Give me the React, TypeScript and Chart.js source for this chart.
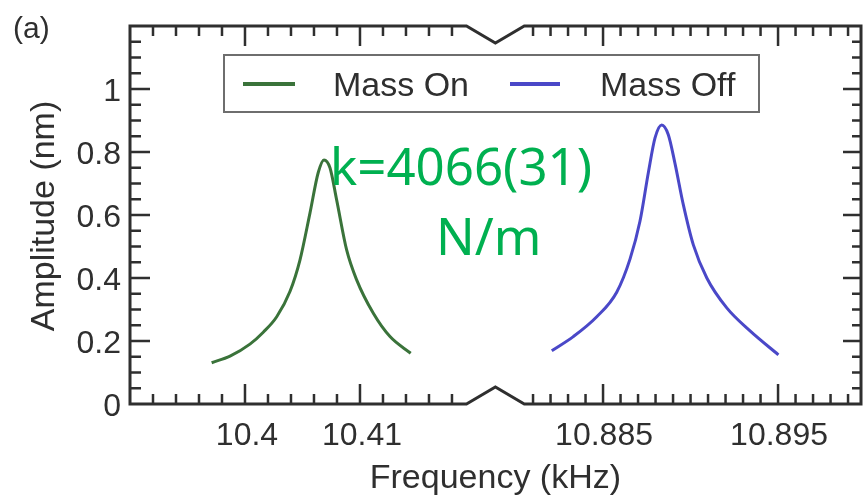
import React, { useEffect, useRef } from "react";
import { Chart, registerables } from "chart.js";

Chart.register(...registerables);

// ---- Data ----
const massOnFreq = [10.3971, 10.3987, 10.40043, 10.40159, 10.40276, 10.40391, 10.40478, 10.40565, 10.40637, 10.40687, 10.40739, 10.40797, 10.40884, 10.40971, 10.41116, 10.41261, 10.41441];
const massOnAmp = [0.131, 0.152, 0.19, 0.228, 0.277, 0.357, 0.457, 0.606, 0.735, 0.775, 0.75, 0.648, 0.489, 0.394, 0.288, 0.214, 0.161];

const massOffFreq = [10.88207, 10.8833, 10.88464, 10.88578, 10.88654, 10.88711, 10.88759, 10.88797, 10.88835, 10.88873, 10.88911, 10.88959, 10.89016, 10.89093, 10.89207, 10.8934, 10.89502];
const massOffAmp = [0.169, 0.214, 0.277, 0.355, 0.46, 0.58, 0.735, 0.845, 0.886, 0.855, 0.764, 0.632, 0.505, 0.4, 0.305, 0.232, 0.156];

const seriesNames = ["Mass On", "Mass Off"];
const leftTicks = [10.4, 10.41];
const leftTickLabels = ["10.4", "10.41"];
const rightTicks = [10.885, 10.895];
const rightTickLabels = ["10.885", "10.895"];
const yTicks = [0, 0.2, 0.4, 0.6, 0.8, 1];
const yTickLabels = ["0", "0.2", "0.4", "0.6", "0.8", "1"];
const xTitle = "Frequency (kHz)";
const yTitle = "Amplitude (nm)";
const panelLabel = "(a)";
const annotationLines = ["k=4066(31)", "N/m"];

// axis ranges (two segments of a broken axis)
const leftMin = 10.39;
const leftEnd = 10.419; // last value drawn on left segment
const leftMax = 10.45357; // full-width virtual max
const rightStart = 10.8805;
const rightMin = 10.85797; // full-width virtual min
const rightMax = 10.89974;
const yMin = 0;
const yMax = 1.2;

const FONT = '"Liberation Sans", Arial, Helvetica, sans-serif';
const AXIS_COLOR = "#2f2f2f";

const framePlugin = {
  id: "framePlugin",
  afterDraw(chart: any) {
    const ctx: CanvasRenderingContext2D = chart.ctx;
    const { left, right, top, bottom } = chart.chartArea;
    const x1 = chart.scales.x1;
    const x2 = chart.scales.x2;
    const y = chart.scales.y;
    const bx0 = x1.getPixelForValue(leftEnd) + 3;
    const bx1 = x2.getPixelForValue(rightStart);
    const bxm = (bx0 + bx1) / 2;
    const dip = 17;

    ctx.save();
    // frame with break marks
    ctx.strokeStyle = AXIS_COLOR;
    ctx.lineWidth = 3;
    ctx.lineJoin = "miter";
    ctx.beginPath();
    ctx.moveTo(left, top);
    ctx.lineTo(bx0, top);
    ctx.lineTo(bxm, top + dip);
    ctx.lineTo(bx1, top);
    ctx.lineTo(right, top);
    ctx.lineTo(right, bottom);
    ctx.lineTo(bx1, bottom);
    ctx.lineTo(bxm, bottom - dip);
    ctx.lineTo(bx0, bottom);
    ctx.lineTo(left, bottom);
    ctx.closePath();
    ctx.stroke();

    // x ticks
    ctx.lineWidth = 2.5;
    const drawXTick = (px: number, len: number) => {
      ctx.beginPath();
      ctx.moveTo(px, bottom);
      ctx.lineTo(px, bottom - len);
      ctx.moveTo(px, top);
      ctx.lineTo(px, top + len);
      ctx.stroke();
    };
    for (let i = 1; i * 0.002 + leftMin <= leftEnd + 1e-9; i++) {
      const v = leftMin + i * 0.002;
      const major = leftTicks.some((t) => Math.abs(t - v) < 1e-7);
      drawXTick(x1.getPixelForValue(v), major ? 20 : 10);
    }
    for (let i = 1; 10.88 + i * 0.001 <= rightMax - 0.0003; i++) {
      const v = 10.88 + i * 0.001;
      const major = rightTicks.some((t) => Math.abs(t - v) < 1e-7);
      drawXTick(x2.getPixelForValue(v), major ? 20 : 10);
    }
    // y ticks
    for (let i = 1; i * 0.05 < yMax - 1e-9; i++) {
      const v = i * 0.05;
      const major = yTicks.some((t) => Math.abs(t - v) < 1e-7);
      const py = y.getPixelForValue(v);
      ctx.beginPath();
      ctx.moveTo(left, py);
      ctx.lineTo(left + (major ? 20 : 11), py);
      ctx.moveTo(right, py);
      ctx.lineTo(right - (major ? 18 : 9), py);
      ctx.stroke();
    }

    // tick labels
    ctx.fillStyle = AXIS_COLOR;
    ctx.font = `32px ${FONT}`;
    ctx.textAlign = "center";
    ctx.textBaseline = "alphabetic";
    leftTicks.forEach((t, i) => ctx.fillText(leftTickLabels[i], x1.getPixelForValue(t) + 2, bottom + 41));
    rightTicks.forEach((t, i) => ctx.fillText(rightTickLabels[i], x2.getPixelForValue(t) + 1, bottom + 41));
    ctx.textAlign = "right";
    ctx.textBaseline = "middle";
    yTicks.forEach((t, i) => ctx.fillText(yTickLabels[i], left - 9, y.getPixelForValue(t) + 3));

    // axis titles
    ctx.font = `34px ${FONT}`;
    ctx.textAlign = "center";
    ctx.textBaseline = "alphabetic";
    ctx.fillText(xTitle, bxm, bottom + 84);
    ctx.save();
    ctx.translate(45, 216);
    ctx.rotate(-Math.PI / 2);
    ctx.textBaseline = "middle";
    ctx.fillText(yTitle, 0, 0);
    ctx.restore();

    // panel label
    ctx.font = `30px ${FONT}`;
    ctx.textAlign = "left";
    ctx.textBaseline = "alphabetic";
    ctx.fillText(panelLabel, 13, 38);

    // legend
    const ds = chart.data.datasets;
    ctx.fillStyle = "#ffffff";
    ctx.fillRect(224, 55, 535, 57);
    ctx.strokeStyle = "#6e6e6e";
    ctx.lineWidth = 2;
    ctx.strokeRect(224, 55, 535, 57);
    ctx.lineWidth = 4;
    ctx.strokeStyle = ds[0].borderColor;
    ctx.beginPath();
    ctx.moveTo(243, 84);
    ctx.lineTo(295, 84);
    ctx.stroke();
    ctx.strokeStyle = ds[1].borderColor;
    ctx.beginPath();
    ctx.moveTo(510, 84);
    ctx.lineTo(560, 84);
    ctx.stroke();
    ctx.fillStyle = AXIS_COLOR;
    ctx.font = `34px ${FONT}`;
    ctx.textBaseline = "alphabetic";
    ctx.fillText(ds[0].label, 333, 96);
    ctx.fillText(ds[1].label, 600, 96);

    // annotation
    ctx.fillStyle = "#00B050";
    ctx.font = `51px "Noto Sans", "Open Sans", sans-serif`;
    ctx.fillText(annotationLines[0], 330, 185);
    ctx.fillText(annotationLines[1], 436, 255);

    ctx.restore();
  },
};

export default function App() {
  const canvasRef = useRef<HTMLCanvasElement | null>(null);

  useEffect(() => {
    if (!canvasRef.current) return;
    const chart = new Chart(canvasRef.current, {
      type: "line",
      data: {
        datasets: [
          {
            label: seriesNames[0],
            data: massOnFreq.map((f, i) => ({ x: f, y: massOnAmp[i] })),
            xAxisID: "x1",
            yAxisID: "y",
            borderColor: "#3a733a",
            borderWidth: 3,
            pointRadius: 0,
            fill: false,
            cubicInterpolationMode: "monotone",
          },
          {
            label: seriesNames[1],
            data: massOffFreq.map((f, i) => ({ x: f, y: massOffAmp[i] })),
            xAxisID: "x2",
            yAxisID: "y",
            borderColor: "#4a48c8",
            borderWidth: 3,
            pointRadius: 0,
            fill: false,
            cubicInterpolationMode: "monotone",
          },
        ],
      },
      options: {
        responsive: false,
        animation: false,
        layout: { padding: { left: 130, right: 3, top: 26, bottom: 94 } },
        scales: {
          x1: { type: "linear", min: leftMin, max: leftMax, display: false },
          x2: { type: "linear", min: rightMin, max: rightMax, display: false },
          y: { type: "linear", min: yMin, max: yMax, display: false },
        },
        plugins: {
          legend: { display: false },
          tooltip: { enabled: false },
        },
      },
      plugins: [framePlugin],
    });
    return () => chart.destroy();
  }, []);

  return (
    <div style={{ position: "absolute", left: 0, top: 0, width: 864, height: 498, background: "#fff" }}>
      <canvas ref={canvasRef} width={864} height={498} style={{ display: "block" }} />
    </div>
  );
}
